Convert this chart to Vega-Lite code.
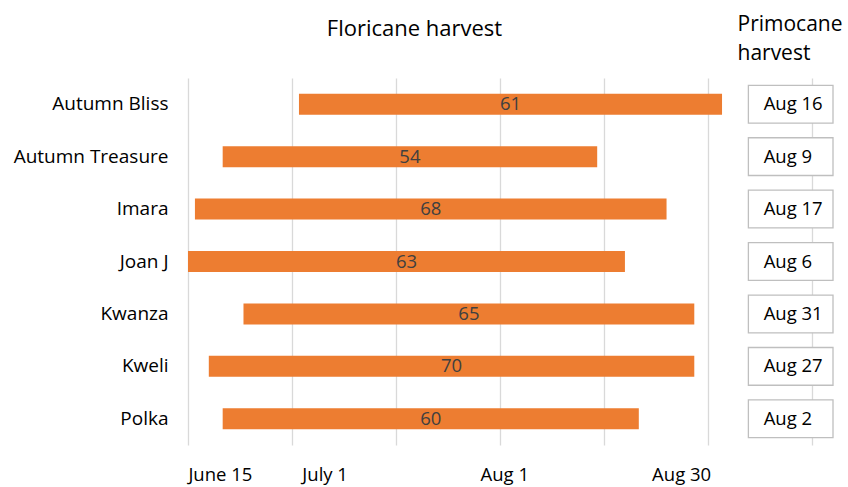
{
  "$schema": "https://vega.github.io/schema/vega-lite/v6.json",
  "width": 645,
  "height": 367,
  "autosize": {"type": "none"},
  "padding": {"left": 188, "top": 78, "right": 15, "bottom": 42},
  "config": {
    "font": "Open Sans",
    "view": {"stroke": null},
    "axis": {"labelFont": "Open Sans", "titleFont": "Open Sans"}
  },
  "data": {
    "values": [
      {"variety": "Autumn Bliss", "start": 16, "end": 77, "days": 61, "primocane": "Aug 16"},
      {"variety": "Autumn Treasure", "start": 5, "end": 59, "days": 54, "primocane": "Aug 9"},
      {"variety": "Imara", "start": 1, "end": 69, "days": 68, "primocane": "Aug 17"},
      {"variety": "Joan J", "start": 0, "end": 63, "days": 63, "primocane": "Aug 6"},
      {"variety": "Kwanza", "start": 8, "end": 73, "days": 65, "primocane": "Aug 31"},
      {"variety": "Kweli", "start": 3, "end": 73, "days": 70, "primocane": "Aug 27"},
      {"variety": "Polka", "start": 5, "end": 65, "days": 60, "primocane": "Aug 2"}
    ]
  },
  "encoding": {
    "y": {
      "field": "variety",
      "type": "nominal",
      "sort": null,
      "scale": {"paddingInner": 0, "paddingOuter": 0},
      "axis": {
        "title": null,
        "ticks": false,
        "domain": false,
        "labelFontSize": 19,
        "labelColor": "#000000",
        "labelPadding": 20
      }
    }
  },
  "layer": [
    {
      "mark": {"type": "bar", "color": "#ED7D31", "height": {"band": 0.4}},
      "encoding": {
        "x": {
          "field": "start",
          "type": "quantitative",
          "scale": {"domain": [0, 93], "nice": false, "zero": false},
          "axis": {
            "values": [0, 15, 30, 45, 60, 75, 90],
            "grid": true,
            "gridColor": "#d9d9d9",
            "gridWidth": 1.3,
            "labels": false,
            "ticks": false,
            "domain": false,
            "title": null
          }
        },
        "x2": {"field": "end"}
      }
    },
    {
      "transform": [{"calculate": "(datum.start + datum.end) / 2", "as": "mid"}],
      "mark": {"type": "text", "fontSize": 18.5, "color": "#404040", "baseline": "middle"},
      "encoding": {
        "x": {
          "field": "mid",
          "type": "quantitative",
          "axis": {
            "orient": "bottom",
            "values": [4.6, 19.7, 45.6, 71.1],
            "labelExpr": "datum.value < 10 ? 'June 15' : datum.value < 30 ? 'July 1' : datum.value < 60 ? 'Aug 1' : 'Aug 30'",
            "grid": false,
            "ticks": false,
            "domain": false,
            "labelFontSize": 18.5,
            "labelColor": "#000000",
            "labelPadding": 20,
            "title": null
          }
        },
        "text": {"field": "days", "type": "quantitative"}
      }
    },
    {
      "mark": {"type": "rect", "fill": "#ffffff", "stroke": "#bfbfbf", "strokeWidth": 1.3, "height": {"band": 0.72}},
      "encoding": {
        "x": {
          "datum": 80.8,
          "type": "quantitative",
          "axis": {
            "orient": "top",
            "values": [],
            "grid": false,
            "ticks": false,
            "domain": false,
            "labels": false,
            "title": ["Primocane", "harvest"],
            "titleFontSize": 21,
            "titleFontWeight": "normal",
            "titleColor": "#000000",
            "titleAlign": "left",
            "titleAnchor": null,
            "titleBaseline": "alphabetic",
            "titleX": 549,
            "titleY": -48,
            "titleLineHeight": 29.5
          }
        },
        "x2": {"datum": 93}
      }
    },
    {
      "mark": {"type": "text", "fontSize": 18.5, "color": "#000000", "align": "left", "baseline": "middle"},
      "encoding": {
        "x": {
          "datum": 83,
          "type": "quantitative",
          "axis": {
            "orient": "top",
            "values": [],
            "grid": false,
            "ticks": false,
            "domain": false,
            "labels": false,
            "title": "Floricane harvest",
            "titleFontSize": 22,
            "titleFontWeight": "normal",
            "titleColor": "#000000",
            "titleAlign": "center",
            "titleAnchor": null,
            "titleBaseline": "alphabetic",
            "titleX": 226,
            "titleY": -43
          }
        },
        "text": {"field": "primocane"}
      }
    }
  ],
  "resolve": {"axis": {"x": "independent"}}
}
